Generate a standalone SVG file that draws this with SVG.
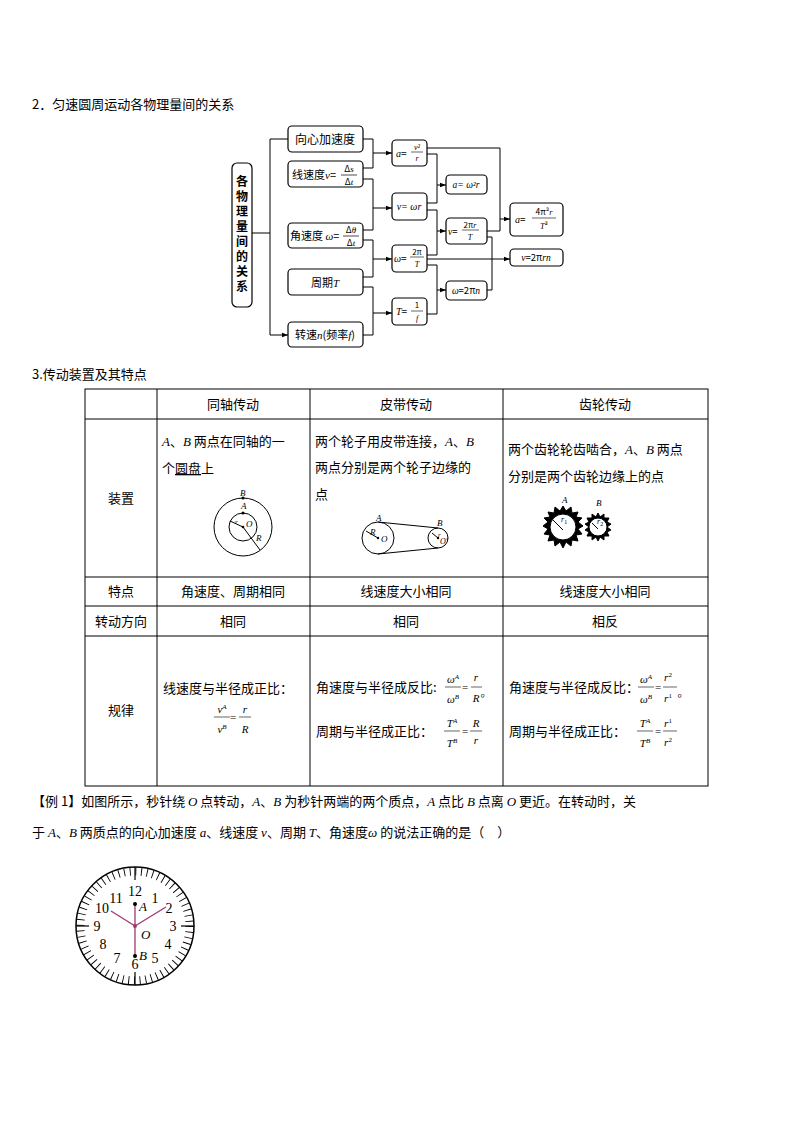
<svg xmlns="http://www.w3.org/2000/svg" width="794" height="1123" viewBox="0 0 794 1123">
<style>
svg{font-family:"Noto Sans CJK SC","Liberation Serif",serif}
.t{font-size:13px}
.m{font-family:"Liberation Serif","Noto Sans CJK SC",serif;font-style:italic}
.n{font-family:"Liberation Serif",serif}
.b rect{fill:#fff;stroke:#000;stroke-width:1.2}
.c{fill:none;stroke:#000;stroke-width:1}
.g{stroke:#000;stroke-width:1;fill:none}
</style>
<defs><marker id="ar" markerWidth="6" markerHeight="6" refX="6" refY="3" orient="auto"><path d="M0,0.8L6,3L0,5.2z" fill="#000"/></marker></defs>
<rect width="794" height="1123" fill="#fff"/>
<text x="32" y="109" class="t">2．匀速圆周运动各物理量间的关系</text>

<g class="b">
<g id="n0"><rect x="232" y="163" width="20" height="144" rx="5"/>
<g font-size="12" text-anchor="middle" font-weight="bold"><text x="242" y="186">各</text><text x="242" y="201">物</text><text x="242" y="216">理</text><text x="242" y="231">量</text><text x="242" y="246">间</text><text x="242" y="261">的</text><text x="242" y="276">关</text><text x="242" y="291">系</text></g></g>
<g id="n1"><rect x="288" y="126" width="75" height="26" rx="4"/><text x="325" y="144" font-size="12" text-anchor="middle">向心加速度</text></g>
<g id="n2"><rect x="288" y="161" width="75" height="26" rx="4"/><text x="292" y="179" font-size="11">线速度<tspan class="m">v</tspan>=</text><text x="349" y="172" font-size="9" text-anchor="middle">Δ<tspan class="m">s</tspan></text><line x1="341" y1="175" x2="357" y2="175" stroke="#000" stroke-width="0.7"/><text x="349" y="185" font-size="9" text-anchor="middle">Δ<tspan class="m">t</tspan></text></g>
<g id="n3"><rect x="288" y="223" width="75" height="25" rx="4"/><text x="290" y="240" font-size="11">角速度 <tspan class="m">ω</tspan>=</text><text x="351" y="233" font-size="9" text-anchor="middle">Δ<tspan class="m">θ</tspan></text><line x1="343" y1="236" x2="359" y2="236" stroke="#000" stroke-width="0.7"/><text x="351" y="246" font-size="9" text-anchor="middle">Δ<tspan class="m">t</tspan></text></g>
<g id="n4"><rect x="288" y="269" width="75" height="26" rx="4"/><text x="325" y="287" font-size="11" text-anchor="middle">周期<tspan class="m">T</tspan></text></g>
<g id="n5"><rect x="288" y="322" width="75" height="25" rx="4"/><text x="325" y="339" font-size="11" text-anchor="middle">转速<tspan class="m">n</tspan>(频率<tspan class="m">f</tspan>)</text></g>
<g id="n6"><rect x="392" y="140" width="35" height="26" rx="4"/><text x="396" y="157" font-size="10"><tspan class="m">a</tspan>=</text><text x="417" y="150" font-size="8" class="m" text-anchor="middle">v²</text><line x1="411" y1="152" x2="423" y2="152" stroke="#000" stroke-width="0.6"/><text x="417" y="161" font-size="8" class="m" text-anchor="middle">r</text></g>
<g id="n7"><rect x="392" y="193" width="35" height="27" rx="4"/><text x="409" y="210" font-size="10" text-anchor="middle" class="m">v= ωr</text></g>
<g id="n8"><rect x="392" y="245" width="35" height="27" rx="4"/><text x="394" y="262" font-size="10"><tspan class="m">ω</tspan>=</text><text x="417" y="255" font-size="8" text-anchor="middle">2π</text><line x1="410" y1="257" x2="424" y2="257" stroke="#000" stroke-width="0.6"/><text x="417" y="267" font-size="8" class="m" text-anchor="middle">T</text></g>
<g id="n9"><rect x="392" y="298" width="35" height="27" rx="4"/><text x="396" y="315" font-size="10"><tspan class="m">T</tspan>=</text><text x="417" y="308" font-size="8" text-anchor="middle">1</text><line x1="411" y1="311" x2="423" y2="311" stroke="#000" stroke-width="0.6"/><text x="417" y="321" font-size="8" class="m" text-anchor="middle">f</text></g>
<g id="n10"><rect x="446" y="175" width="41" height="19" rx="4"/><text x="466" y="188" font-size="9.5" text-anchor="middle" class="m">a= ω²r</text></g>
<g id="n11"><rect x="446" y="218" width="41" height="26" rx="4"/><text x="448" y="235" font-size="9.5"><tspan class="m">v</tspan>=</text><text x="470" y="228" font-size="8" text-anchor="middle">2π<tspan class="m">r</tspan></text><line x1="462" y1="230" x2="479" y2="230" stroke="#000" stroke-width="0.6"/><text x="470" y="240" font-size="8" class="m" text-anchor="middle">T</text></g>
<g id="n12"><rect x="446" y="281" width="41" height="19" rx="4"/><text x="466" y="294" font-size="9.5" text-anchor="middle"><tspan class="m">ω</tspan>=2π<tspan class="m">n</tspan></text></g>
<g id="n13"><rect x="510" y="203" width="53" height="33" rx="4"/><text x="515" y="223" font-size="10"><tspan class="m">a</tspan>=</text><text x="544" y="215" font-size="8.5" text-anchor="middle">4π²<tspan class="m">r</tspan></text><line x1="532" y1="218" x2="556" y2="218" stroke="#000" stroke-width="0.6"/><text x="544" y="229" font-size="8.5" text-anchor="middle"><tspan class="m">T</tspan>²</text></g>
<g id="n14"><rect x="510" y="249" width="53" height="17" rx="4"/><text x="536" y="261" font-size="9.5" text-anchor="middle"><tspan class="m">v</tspan>=2π<tspan class="m">rn</tspan></text></g>
</g>

<g id="connectors" class="c">
<path d="M252,233H270M270,139V335"/>
<path d="M270,139H288M270,335H288" marker-end="url(#ar)"/>
<path d="M363,139H373V168H363M373,153H392" marker-end="url(#ar)"/>
<path d="M363,179H373V230H363M373,208H392" marker-end="url(#ar)"/>
<path d="M363,240H373V277H363M373,259H392" marker-end="url(#ar)"/>
<path d="M363,287H373V335H363M373,313H392" marker-end="url(#ar)"/>
<path d="M427,154H437V203H427M437,185H446" marker-end="url(#ar)"/>
<path d="M427,210H437V255H427M437,231H446" marker-end="url(#ar)"/>
<path d="M427,265H437V314H427M437,290H446" marker-end="url(#ar)"/>
<path d="M427,148H500V231H487M500,219H510" marker-end="url(#ar)"/>
<path d="M427,259H510" marker-end="url(#ar)"/>
<path d="M487,237H492V290H487"/>
</g>

<text x="32" y="379" class="t">3.传动装置及其特点</text>
<g id="table" stroke="#000" stroke-width="1" fill="none">
<rect x="85" y="389" width="623" height="397"/>
<path d="M157,389V786M310,389V786M503,389V786M85,419H708M85,577H708M85,606H708M85,636H708"/>
</g>
<g class="t" text-anchor="middle">
<text x="233" y="409">同轴传动</text><text x="406" y="409">皮带传动</text><text x="605" y="409">齿轮传动</text>
<text x="121" y="503">装置</text><text x="121" y="596">特点</text><text x="121" y="626">转动方向</text><text x="121" y="715">规律</text>
<text x="233" y="596">角速度、周期相同</text><text x="406" y="596">线速度大小相同</text><text x="605" y="596">线速度大小相同</text>
<text x="233" y="626">相同</text><text x="406" y="626">相同</text><text x="605" y="626">相反</text>
</g>
<g class="t">
<text x="162" y="446"><tspan class="m">A</tspan>、<tspan class="m">B</tspan> 两点在同轴的一</text>
<text x="162" y="473">个<tspan text-decoration="underline">圆盘</tspan>上</text>
<text x="315" y="446">两个轮子用皮带连接，<tspan class="m">A</tspan>、<tspan class="m">B</tspan></text>
<text x="315" y="472">两点分别是两个轮子边缘的</text>
<text x="315" y="499">点</text>
<text x="508" y="454">两个齿轮轮齿啮合，<tspan class="m">A</tspan>、<tspan class="m">B</tspan> 两点</text>
<text x="508" y="481">分别是两个齿轮边缘上的点</text>
<text x="163" y="693">线速度与半径成正比：</text>
<text x="316" y="692">角速度与半径成反比:</text>
<text x="316" y="736">周期与半径成正比：</text>
<text x="509" y="692">角速度与半径成反比：</text>
<text x="509" y="736">周期与半径成正比：</text>
</g>
<g font-size="11" class="m" text-anchor="middle">
<text x="222" y="713">v<tspan font-size="7" dy="-4">A</tspan></text><line x1="214" y1="717" x2="230" y2="717" stroke="#000" stroke-width="0.6"/><text x="222" y="733">v<tspan font-size="7" dy="-4">B</tspan></text>
<text x="233" y="721" font-style="normal">=</text>
<text x="245" y="713">r</text><line x1="239" y1="717" x2="251" y2="717" stroke="#000" stroke-width="0.6"/><text x="245" y="733">R</text>
<text x="453" y="683">ω<tspan font-size="7" dy="-4">A</tspan></text><line x1="445" y1="687" x2="461" y2="687" stroke="#000" stroke-width="0.6"/><text x="453" y="703">ω<tspan font-size="7" dy="-4">B</tspan></text>
<text x="465" y="691" font-style="normal">=</text>
<text x="476" y="681">r</text><line x1="471" y1="687" x2="482" y2="687" stroke="#000" stroke-width="0.6"/><text x="476" y="702">R</text><text x="486" y="697" font-style="normal">。</text>
<text x="452" y="727">T<tspan font-size="7" dy="-4">A</tspan></text><line x1="444" y1="731" x2="460" y2="731" stroke="#000" stroke-width="0.6"/><text x="452" y="747">T<tspan font-size="7" dy="-4">B</tspan></text>
<text x="465" y="735" font-style="normal">=</text>
<text x="476" y="727">R</text><line x1="470" y1="731" x2="482" y2="731" stroke="#000" stroke-width="0.6"/><text x="476" y="744">r</text>
<text x="646" y="683">ω<tspan font-size="7" dy="-4">A</tspan></text><line x1="638" y1="687" x2="654" y2="687" stroke="#000" stroke-width="0.6"/><text x="646" y="703">ω<tspan font-size="7" dy="-4">B</tspan></text>
<text x="658" y="691" font-style="normal">=</text>
<text x="668" y="681">r<tspan font-size="7" dy="-4" font-style="normal">2</tspan></text><line x1="663" y1="687" x2="677" y2="687" stroke="#000" stroke-width="0.6"/><text x="668" y="702">r<tspan font-size="7" dy="-4" font-style="normal">1</tspan></text><text x="683" y="697" font-style="normal">。</text>
<text x="645" y="727">T<tspan font-size="7" dy="-4">A</tspan></text><line x1="637" y1="731" x2="653" y2="731" stroke="#000" stroke-width="0.6"/><text x="645" y="747">T<tspan font-size="7" dy="-4">B</tspan></text>
<text x="658" y="735" font-style="normal">=</text>
<text x="668" y="727">r<tspan font-size="7" dy="-4" font-style="normal">1</tspan></text><line x1="663" y1="731" x2="677" y2="731" stroke="#000" stroke-width="0.6"/><text x="668" y="746">r<tspan font-size="7" dy="-4" font-style="normal">2</tspan></text>
</g>

<g id="fig1" class="g">
<circle cx="243" cy="527" r="29"/><circle cx="243" cy="527" r="14"/>
<path d="M243,527L260,550M243,527L230,521"/>
<g fill="#000" stroke="none"><circle cx="243" cy="498" r="1.5"/><circle cx="243" cy="513" r="1.5"/><circle cx="243" cy="527" r="1.3"/>
<text x="240" y="496" font-size="9" class="m">B</text><text x="241" y="509" font-size="9" class="m">A</text><text x="235" y="524" font-size="7" class="m">r</text><text x="246" y="527" font-size="9" class="m">O</text><text x="256" y="541" font-size="9" class="m">R</text></g>
</g>
<g id="fig2" class="g">
<circle cx="378" cy="538" r="16"/><circle cx="438" cy="538" r="10"/>
<path d="M378,522L438,528M378,554L438,548M378,538L366,531M438,538L432,533"/>
<g fill="#000" stroke="none"><circle cx="378" cy="538" r="1.2"/><circle cx="438" cy="538" r="1.2"/>
<text x="376" y="521" font-size="9" class="m">A</text><text x="437" y="526" font-size="9" class="m">B</text><text x="370" y="535" font-size="9" class="m">R</text><text x="381" y="542" font-size="9" class="m">O</text><text x="438" y="537" font-size="7" class="m">r</text><text x="440" y="544" font-size="8" class="m">O'</text></g>
</g>
<g id="fig3">
<g stroke="#000" fill="#000">
<polygon points="563,506 566,511 571,507 572,513 578,512 576,517 582,518 578,522 583,526 578,529 582,534 576,535 578,541 572,540 571,546 566,542 563,548 560,542 555,546 554,540 548,541 550,535 544,534 548,529 543,526 548,522 544,518 550,517 548,512 554,513 555,507 560,511"/>
<polygon points="598,513 600,517 604,514 604,518 609,518 607,522 611,524 607,527 611,530 607,532 609,536 604,536 604,540 600,537 598,541 596,537 592,540 592,536 587,536 589,532 585,530 589,527 585,524 589,522 587,518 592,518 592,514 596,517"/>
</g>
<circle cx="563" cy="527" r="13" fill="#fff" stroke="#000"/><circle cx="598" cy="527" r="9" fill="#fff" stroke="#000"/>
<path d="M563,530L553,520M598,529L592,523" stroke="#000" stroke-width="1"/>
<g font-size="9" class="m"><text x="562" y="503">A</text><text x="596" y="506">B</text><text x="561" y="522" font-size="8">r<tspan font-size="6" dy="2" font-style="normal">1</tspan></text><text x="597" y="524" font-size="8">r<tspan font-size="6" dy="2" font-style="normal">2</tspan></text></g>
</g>

<g class="t">
<text x="32" y="806">【例 1】如图所示，秒针绕 <tspan class="m">O</tspan> 点转动，<tspan class="m">A</tspan>、<tspan class="m">B</tspan> 为秒针两端的两个质点，<tspan class="m">A</tspan> 点比 <tspan class="m">B</tspan> 点离 <tspan class="m">O</tspan> 更近。在转动时，关</text>
<text x="32" y="837">于 <tspan class="m">A</tspan>、<tspan class="m">B</tspan> 两质点的向心加速度 <tspan class="m">a</tspan>、线速度 <tspan class="m">v</tspan>、周期 <tspan class="m">T</tspan>、角速度<tspan class="m">ω</tspan> 的说法正确的是（　）</text>
</g>

<g id="clock">
<circle cx="135" cy="926" r="59" fill="none" stroke="#000" stroke-width="1.5"/>
<g stroke="#000" stroke-width="1.2">
<line x1="135" y1="867" x2="135" y2="880"/><line x1="135" y1="972" x2="135" y2="985"/><line x1="76" y1="926" x2="89" y2="926"/><line x1="181" y1="926" x2="194" y2="926"/>
</g>
<circle cx="135" cy="926" r="54.5" fill="none" stroke="#000" stroke-width="8" stroke-dasharray="0.9,4.807"/>
<g class="n" font-size="14" text-anchor="middle">
<text x="135" y="896">12</text><text x="155" y="903">1</text><text x="169" y="913">2</text><text x="173" y="931">3</text><text x="168" y="949">4</text><text x="155" y="963">5</text><text x="135" y="969">6</text><text x="117" y="963">7</text><text x="103" y="949">8</text><text x="97" y="931">9</text><text x="102" y="913">10</text><text x="116" y="903">11</text>
</g>
<g stroke="#9a3b6e" stroke-width="1.3"><line x1="135" y1="926" x2="111" y2="911"/><line x1="135" y1="926" x2="166" y2="907"/><line x1="135" y1="903" x2="135" y2="955"/></g>
<circle cx="135" cy="926" r="2" fill="#9a3b6e"/>
<circle cx="135" cy="904" r="2" fill="#000"/><circle cx="135" cy="956" r="2" fill="#000"/>
<g font-size="13" class="m"><text x="139" y="911">A</text><text x="141" y="939">O</text><text x="139" y="960">B</text></g>
</g>
</svg>
